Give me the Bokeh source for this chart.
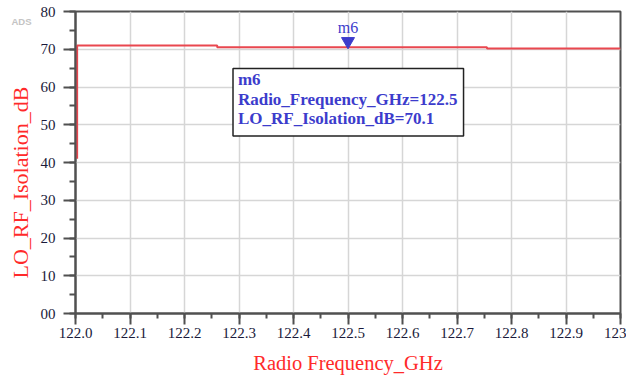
import math
from bokeh.plotting import figure
from bokeh.models import FixedTicker, Label, BoxAnnotation, Title
from bokeh.embed import file_html
from bokeh.resources import INLINE

# ---- data ----
freq_ghz = [122.003, 122.003, 122.26, 122.26, 122.755, 122.755, 123.0]
isolation_db = [41.0, 71.0, 71.0, 70.5, 70.5, 70.2, 70.2]

marker_name = "m6"
marker_freq = 122.5
marker_value = 70.1

x_ticks = [122.0, 122.1, 122.2, 122.3, 122.4, 122.5, 122.6, 122.7, 122.8, 122.9, 123.0]
x_tick_labels = ["122.0", "122.1", "122.2", "122.3", "122.4", "122.5", "122.6",
                 "122.7", "122.8", "122.9", "123"]
y_ticks = [0, 10, 20, 30, 40, 50, 60, 70, 80]
y_tick_labels = ["00", "10", "20", "30", "40", "50", "60", "70", "80"]

SERIF = "Liberation Serif"
RED = "#ff2a2a"
LINE_RED = "#e9474f"
BLUE = "#3c3ccc"
TICK_TXT = "#1a1a3a"
AXIS = "#505050"

p = figure(width=626, height=376, output_backend="svg", toolbar_location=None,
           x_range=(122.0, 123.0), y_range=(0, 80),
           min_border_left=74, min_border_right=6, min_border_top=11, min_border_bottom=61)
p.background_fill_color = "white"
p.border_fill_color = "white"
p.outline_line_color = AXIS
p.outline_line_width = 2

# axes
p.xaxis.ticker = FixedTicker(ticks=x_ticks,
                             minor_ticks=[round(122.0 + 0.05 * i, 3) for i in range(21)])
p.yaxis.ticker = FixedTicker(ticks=y_ticks, minor_ticks=[5 * i for i in range(17)])
p.xaxis.major_label_overrides = {t: l for t, l in zip(x_ticks, x_tick_labels)}
p.yaxis.major_label_overrides = {t: l for t, l in zip(y_ticks, y_tick_labels)}

for ax in (p.xaxis, p.yaxis):
    ax.axis_line_color = AXIS
    ax.axis_line_width = 2
    ax.major_tick_line_color = AXIS
    ax.minor_tick_line_color = AXIS
    ax.major_tick_line_width = 2
    ax.minor_tick_line_width = 2
    ax.major_tick_in = 0
    ax.minor_tick_in = 0
    ax.major_label_text_font = SERIF
    ax.major_label_text_font_size = "15px"
    ax.major_label_text_color = TICK_TXT

p.yaxis.major_tick_out = 12
p.yaxis.minor_tick_out = 6
p.yaxis.major_label_standoff = 8
p.xaxis.major_tick_out = 11
p.xaxis.minor_tick_out = 5
p.xaxis.major_label_standoff = 3

p.xaxis.axis_label = "Radio Frequency_GHz"
p.xaxis.axis_label_text_font = SERIF
p.xaxis.axis_label_text_font_size = "20.5px"
p.xaxis.axis_label_text_font_style = "normal"
p.xaxis.axis_label_text_color = RED
p.xaxis.axis_label_standoff = 11

p.xgrid.grid_line_color = "#d6d6d6"
p.ygrid.grid_line_color = "#d6d6d6"
p.xgrid.grid_line_width = 1.5
p.ygrid.grid_line_width = 1.5

# y axis title, starting lower than the frame centre as in the reference
p.add_layout(Title(text="LO_RF_Isolation_dB", align="left", offset=35,
                   text_font=SERIF, text_font_size="22px", text_font_style="normal",
                   text_color=RED, standoff=10), "left")

# ADS badge in the top border panel (positions relative to that panel)
p.add_layout(Label(x=-64, y=-10, x_units="screen", y_units="screen", text="ADS",
                   text_font="Liberation Sans", text_font_size="9.5px",
                   text_font_style="bold", text_color="#c4c4c4",
                   text_align="left", text_baseline="middle"), "above")

# trace
p.line(freq_ghz, isolation_db, line_color=LINE_RED, line_width=2)

# marker
p.scatter([marker_freq], [72.1], marker="inverted_triangle", size=13,
          fill_color=BLUE, line_color=BLUE)
p.add_layout(Label(x=marker_freq, y=75.8, text=marker_name, text_font=SERIF,
                   text_font_size="16px", text_color=BLUE,
                   text_align="center", text_baseline="middle"))

# marker readout box
p.add_layout(BoxAnnotation(left=122.289, right=122.712, top=64.9, bottom=47.0,
                           fill_color="white", fill_alpha=1.0,
                           line_color="#222222", line_alpha=1.0, line_width=1.5,
                           level="overlay"))
readout = [marker_name,
           f"Radio_Frequency_GHz={marker_freq}",
           f"LO_RF_Isolation_dB={marker_value}"]
for txt, yy in zip(readout, [62.0, 56.7, 51.6]):
    p.add_layout(Label(x=122.298, y=yy, text=txt, text_font=SERIF,
                       text_font_size="17px", text_font_style="bold",
                       text_color=BLUE, text_align="left", text_baseline="middle",
                       level="overlay"))

open("out.html", "w").write(file_html(p, INLINE))
